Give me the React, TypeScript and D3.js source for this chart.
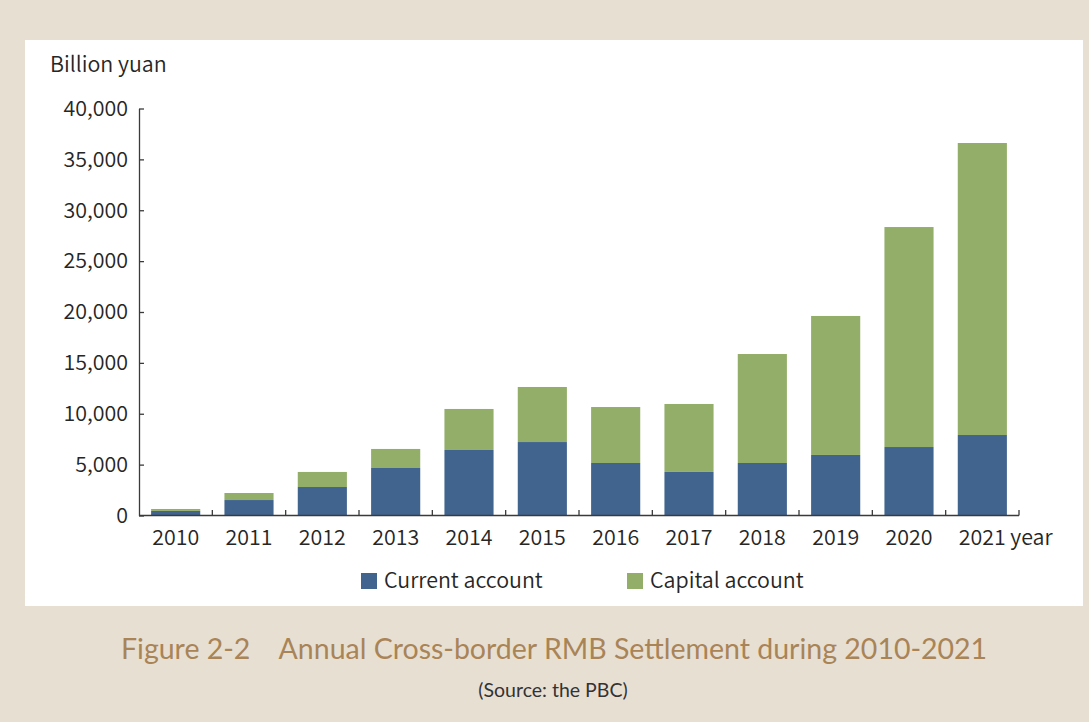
import React, { useEffect, useRef } from "react";
import * as d3 from "d3";

const years = ["2010", "2011", "2012", "2013", "2014", "2015", "2016", "2017", "2018", "2019", "2020", "2021"];
const currentAccount = [450, 1520, 2800, 4670, 6440, 7220, 5160, 4280, 5160, 5950, 6730, 7910];
const capitalAccount = [190, 690, 1480, 1870, 4030, 5410, 5500, 6680, 10710, 13660, 21620, 28700];
const yTicks = [0, 5000, 10000, 15000, 20000, 25000, 30000, 35000, 40000];
const seriesNames = ["Current account", "Capital account"];
const seriesColors = ["#41648f", "#93ae68"];

const W = 1089;
const H = 722;
const FONT = "'Noto Sans CJK SC', 'Noto Sans', sans-serif";
const TITLE_FONT = "Lato, 'Open Sans', sans-serif";
const FS = 21.4;
const FW = 350;
const TXT = "#262626";

export default function App() {
  const ref = useRef<SVGSVGElement | null>(null);

  useEffect(() => {
    const svg = d3.select(ref.current);
    svg.selectAll("*").remove();

    svg.append("rect").attr("x", 0).attr("y", 0).attr("width", W).attr("height", H).attr("fill", "#e8dfd3");
    svg.append("rect").attr("x", 25).attr("y", 40).attr("width", 1058).attr("height", 566).attr("fill", "#ffffff");

    const x = d3.scaleBand<string>().domain(years).range([139, 1019]).paddingInner(0.33).paddingOuter(0.165);
    const y = d3.scaleLinear().domain([0, 40000]).range([515.5, 108.5]);

    const rows = years.map((yr, i) => ({ year: yr, current: currentAccount[i], capital: capitalAccount[i] }));
    const stack = d3.stack<any>().keys(["current", "capital"])(rows);

    const g = svg.append("g");
    stack.forEach((layer, li) => {
      g.append("g")
        .attr("fill", seriesColors[li])
        .selectAll("rect")
        .data(layer)
        .join("rect")
        .attr("x", (d: any) => x(d.data.year)!)
        .attr("width", x.bandwidth())
        .attr("y", (d: any) => y(d[1]))
        .attr("height", (d: any) => y(d[0]) - y(d[1]));
    });

    // Y axis
    const yAxis = d3.axisLeft(y).tickValues(yTicks).tickFormat(d3.format(",") as any).tickSizeInner(-5).tickSizeOuter(0).tickPadding(11);
    const ya = svg.append("g").attr("transform", "translate(139,0)").call(yAxis as any);
    ya.select(".domain").attr("stroke", "#3a3a3a").attr("stroke-width", 1.3);
    ya.selectAll(".tick line").attr("stroke", "#3a3a3a").attr("stroke-width", 1.3);
    ya.selectAll(".tick text").attr("font-family", FONT).attr("font-size", FS).attr("font-weight", FW).attr("fill", TXT);

    // X axis
    const step = x.step();
    const x0 = 139;
    svg.append("line").attr("x1", x0).attr("x2", 1019).attr("y1", 515.5).attr("y2", 515.5).attr("stroke", "#3a3a3a").attr("stroke-width", 1.3);
    svg.append("g").selectAll("line").data(years).join("line")
      .attr("x1", (_d, i) => x0 + step * (i + 1))
      .attr("x2", (_d, i) => x0 + step * (i + 1))
      .attr("y1", 515.5).attr("y2", 510).attr("stroke", "#3a3a3a").attr("stroke-width", 1.3);
    svg.append("g").selectAll("text").data(years).join("text")
      .attr("x", (d) => x(d)! + x.bandwidth() / 2)
      .attr("y", 545)
      .attr("text-anchor", "middle")
      .attr("font-family", FONT).attr("font-size", FS).attr("font-weight", FW).attr("fill", TXT)
      .text((d) => d);
    svg.append("text").attr("x", x(years[years.length - 1])! + x.bandwidth() / 2 + 28).attr("y", 545)
      .attr("font-family", FONT).attr("font-size", FS).attr("font-weight", FW).attr("fill", TXT).text("year");

    svg.append("text").attr("x", 50).attr("y", 72).attr("font-family", FONT).attr("font-size", FS).attr("font-weight", FW).attr("fill", TXT).text("Billion yuan");

    // Legend
    const legendX = [361, 627];
    seriesNames.forEach((name, i) => {
      svg.append("rect").attr("x", legendX[i]).attr("y", 573).attr("width", 16).attr("height", 16).attr("fill", seriesColors[i]);
      svg.append("text").attr("x", legendX[i] + 23).attr("y", 588).attr("font-family", FONT).attr("font-size", FS).attr("font-weight", FW).attr("fill", TXT).text(name);
    });

    // Title
    svg.append("text").attr("x", 121).attr("y", 659).attr("font-family", TITLE_FONT).attr("font-size", 28.5).attr("fill", "#a88457")
      .attr("xml:space", "preserve")
      .text("Figure 2-2    Annual Cross-border RMB Settlement during 2010-2021");
    svg.append("text").attr("x", 553).attr("y", 697).attr("text-anchor", "middle").attr("font-family", TITLE_FONT).attr("font-size", 19.5).attr("fill", "#333333")
      .text("(Source: the PBC)");
  }, []);

  return (
    <div style={{ position: "fixed", left: 0, top: 0 }}>
      <svg ref={ref} width={W} height={H} style={{ display: "block" }} />
    </div>
  );
}
